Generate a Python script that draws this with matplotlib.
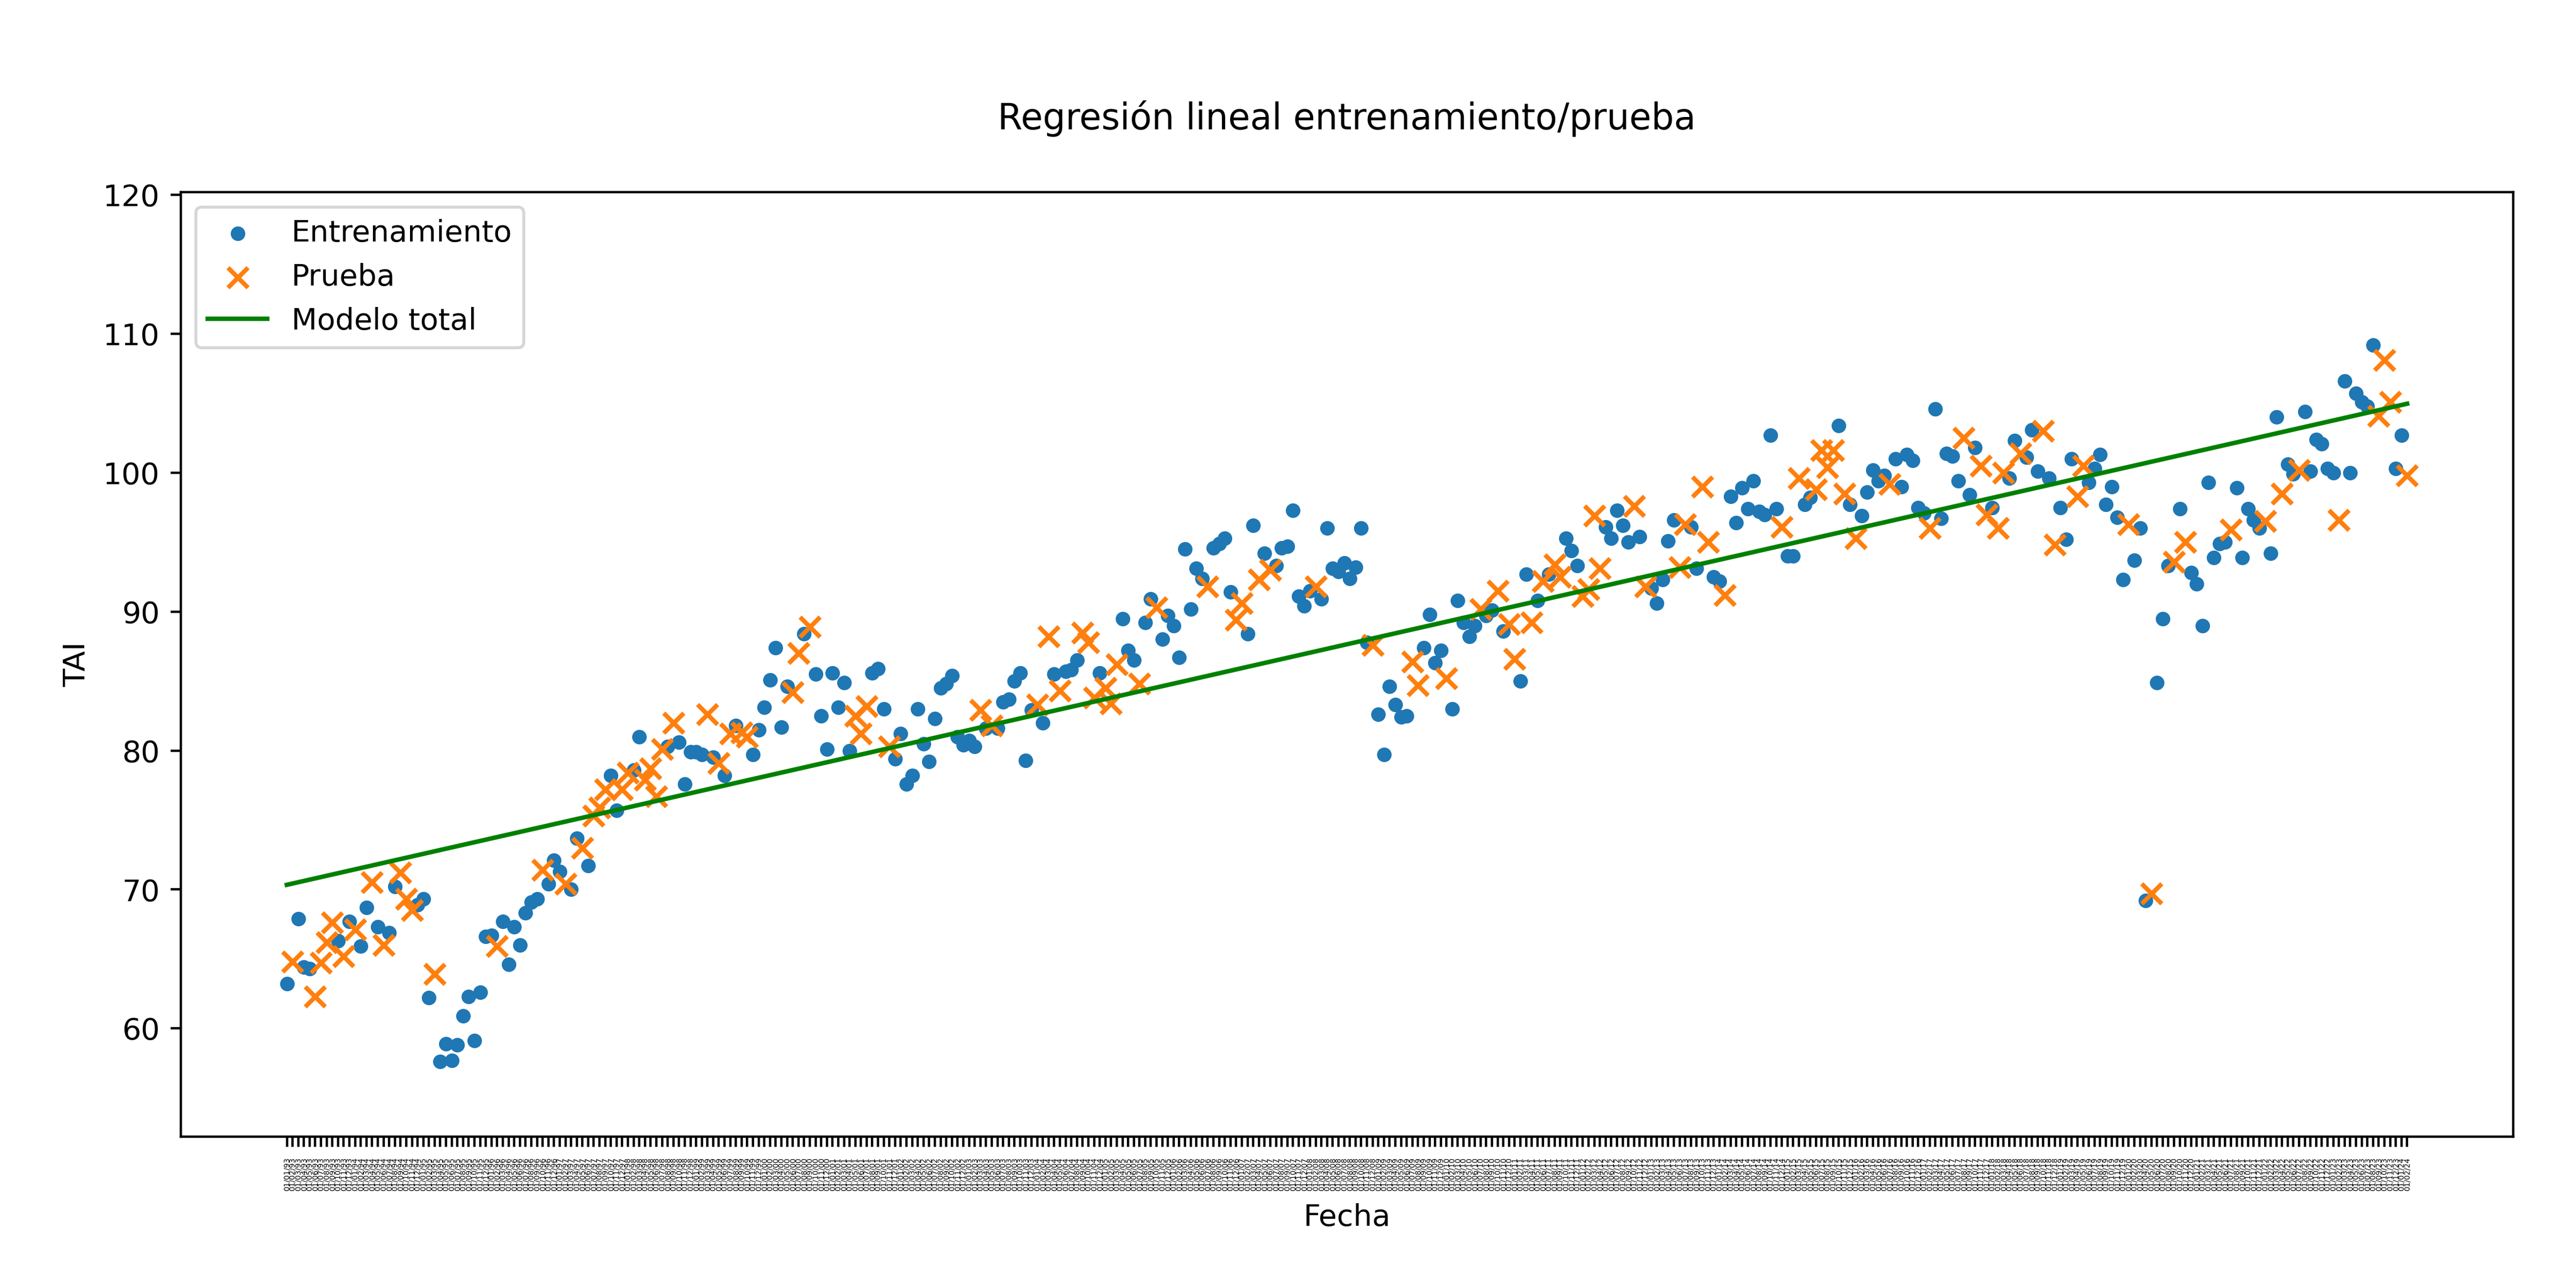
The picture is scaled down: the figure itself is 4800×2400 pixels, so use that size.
import numpy as np
import pandas as pd
import matplotlib
matplotlib.use("Agg")
import matplotlib.pyplot as plt

# fechas mensuales (etiquetas del eje x)
fechas = list(pd.date_range("1993-01-01", "2024-02-01", freq="MS").strftime("%d/%m/%y"))

# TAI mensual
tai = [
    63.2, 64.8, 67.9, 64.4, 64.3, 62.3, 64.7, 66.2, 67.6, 66.3,
    65.2, 67.7, 67.1, 65.9, 68.7, 70.5, 67.3, 66.0, 66.9, 70.2,
    71.2, 69.3, 68.5, 68.9, 69.3, 62.2, 63.9, 57.6, 58.9, 57.7,
    58.8, 60.9, 62.3, 59.1, 62.6, 66.6, 66.7, 65.9, 67.7, 64.6,
    67.3, 66.0, 68.3, 69.1, 69.3, 71.4, 70.4, 72.1, 71.3, 70.4,
    70.0, 73.7, 73.0, 71.7, 75.3, 75.9, 77.2, 78.2, 75.7, 77.2,
    78.4, 78.6, 81.0, 77.9, 78.7, 76.7, 80.1, 80.3, 82.0, 80.6,
    77.6, 79.9, 79.9, 79.7, 82.6, 79.5, 79.1, 78.2, 81.2, 81.8,
    81.3, 81.0, 79.7, 81.5, 83.1, 85.1, 87.4, 81.7, 84.6, 84.2,
    87.0, 88.4, 88.9, 85.5, 82.5, 80.1, 85.6, 83.1, 84.9, 80.0,
    82.5, 81.2, 83.2, 85.6, 85.9, 83.0, 80.3, 79.4, 81.2, 77.6,
    78.2, 83.0, 80.5, 79.2, 82.3, 84.5, 84.8, 85.4, 81.0, 80.4,
    80.7, 80.3, 82.9, 81.6, 81.8, 81.6, 83.5, 83.7, 85.0, 85.6,
    79.3, 82.9, 83.3, 82.0, 88.2, 85.5, 84.3, 85.7, 85.8, 86.5,
    88.5, 87.8, 83.8, 85.6, 84.5, 83.4, 86.2, 89.5, 87.2, 86.5,
    84.8, 89.2, 90.9, 90.3, 88.0, 89.7, 89.0, 86.7, 94.5, 90.2,
    93.1, 92.4, 91.8, 94.6, 94.9, 95.3, 91.4, 89.4, 90.6, 88.4,
    96.2, 92.3, 94.2, 93.0, 93.3, 94.6, 94.7, 97.3, 91.1, 90.4,
    91.5, 91.8, 90.9, 96.0, 93.1, 92.9, 93.5, 92.4, 93.2, 96.0,
    87.8, 87.6, 82.6, 79.7, 84.6, 83.3, 82.4, 82.5, 86.4, 84.7,
    87.4, 89.8, 86.3, 87.2, 85.2, 83.0, 90.8, 89.2, 88.2, 89.0,
    90.2, 89.7, 90.1, 91.5, 88.6, 89.1, 86.6, 85.0, 92.7, 89.2,
    90.8, 92.2, 92.7, 93.4, 92.5, 95.3, 94.4, 93.3, 91.1, 91.6,
    96.9, 93.1, 96.1, 95.3, 97.3, 96.2, 95.0, 97.6, 95.4, 91.8,
    91.7, 90.6, 92.3, 95.1, 96.6, 93.2, 96.3, 96.1, 93.1, 99.0,
    95.0, 92.5, 92.2, 91.2, 98.3, 96.4, 98.9, 97.4, 99.4, 97.2,
    97.0, 102.7, 97.4, 96.1, 94.0, 94.0, 99.6, 97.7, 98.2, 98.8,
    101.6, 100.4, 101.6, 103.4, 98.5, 97.7, 95.3, 96.9, 98.6, 100.2,
    99.4, 99.8, 99.2, 101.0, 99.0, 101.3, 100.9, 97.5, 97.1, 96.0,
    104.6, 96.7, 101.4, 101.2, 99.4, 102.5, 98.4, 101.8, 100.5, 97.0,
    97.5, 96.0, 100.0, 99.6, 102.3, 101.4, 101.1, 103.1, 100.1, 103.0,
    99.6, 94.8, 97.5, 95.2, 101.0, 98.3, 100.5, 99.3, 100.3, 101.3,
    97.7, 99.0, 96.8, 92.3, 96.3, 93.7, 96.0, 69.2, 69.7, 84.9,
    89.5, 93.3, 93.6, 97.4, 95.0, 92.8, 92.0, 89.0, 99.3, 93.9,
    94.9, 95.0, 95.9, 98.9, 93.9, 97.4, 96.6, 96.0, 96.5, 94.2,
    104.0, 98.5, 100.6, 99.9, 100.2, 104.4, 100.1, 102.4, 102.1, 100.3,
    100.0, 96.6, 106.6, 100.0, 105.7, 105.1, 104.8, 109.2, 104.1, 108.1,
    105.1, 100.3, 102.7, 99.8,
]

# meses que quedaron en el conjunto de prueba
idx_prueba = [
    1, 5, 6, 7, 8, 10, 12, 15, 17, 20, 21, 22, 26, 37, 45, 49, 52, 54, 55, 56,
    59, 60, 63, 64, 65, 66, 68, 74, 76, 78, 80, 81, 89, 90, 92, 100, 101, 102,
    106, 122, 124, 132, 134, 136, 140, 141, 142, 144, 145, 146, 150, 153, 162,
    167, 168, 171, 173, 181, 191, 198, 199, 204, 210, 213, 215, 216, 219, 221,
    223, 224, 228, 229, 230, 231, 237, 239, 245, 246, 249, 250, 253, 263, 266,
    269, 270, 271, 272, 274, 276, 282, 289, 295, 298, 299, 301, 302, 305, 309,
    311, 315, 316, 324, 328, 332, 334, 342, 348, 351, 354, 361, 368, 369, 370,
    373,
]


def split_train_test(values, test_idx):
    x_all = np.arange(len(values))
    y_all = np.array(values)
    mask = np.zeros(len(values), dtype=bool)
    mask[test_idx] = True
    return x_all[~mask], y_all[~mask], x_all[mask], y_all[mask]


x_train, y_train, x_test, y_test = split_train_test(tai, idx_prueba)

# modelo lineal con todos los datos
x_all = np.arange(len(tai))
coef = np.polyfit(x_all, tai, 1)
y_model = np.polyval(coef, x_all)

fig = plt.figure(figsize=(12, 6), dpi=400)
ax = fig.add_subplot(111)
fig.subplots_adjust(left=0.0702, right=0.9756, bottom=0.1175, top=0.8508)

ax.scatter(x_train, y_train, s=15, color="tab:blue", label="Entrenamiento")
ax.scatter(x_test, y_test, s=45, marker="x", color="tab:orange", label="Prueba")
ax.plot(x_all, y_model, color="g", label="Modelo total")

ax.set_xticks(x_all)
ax.set_xticklabels(fechas, rotation=90, fontsize=2.5)
ax.set_ylim(52.2, 120.2)

ax.set_title("Regresión lineal entrenamiento/prueba", pad=21)
ax.set_xlabel("Fecha")
ax.set_ylabel("TAI")
ax.legend(loc="upper left")

fig.savefig("out.png", dpi=400)
